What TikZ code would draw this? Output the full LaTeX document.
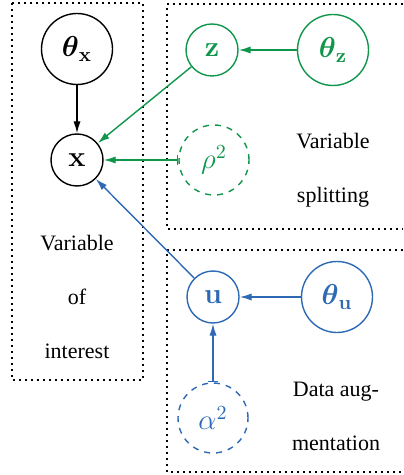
\documentclass[tikz,border=0pt]{standalone}
\usepackage{amsmath}
\usepackage[no-math]{fontspec}
\setmainfont{Liberation Serif}
\usepackage{tikz}
\usetikzlibrary{arrows.meta}

\definecolor{splitgreen}{RGB}{15,150,75}
\definecolor{augblue}{RGB}{45,105,180}

\tikzset{
    var/.style={draw, circle, inner sep=0pt, minimum size=26pt, font=\Large, line width=0.7pt},
    hyper/.style={var, minimum size=35.5pt},
    param/.style={var, dashed, minimum size=35pt},
    groupbox/.style={line width=0.8pt, dash pattern=on 0.8pt off 2.2pt},
    blocktext/.style={align=center, font=\fontsize{11}{27}\selectfont},
}

\begin{document}
\begin{tikzpicture}[x=0.5pt, y=-0.5pt, >={Latex[length=6pt,width=3.6pt]}, line width=0.7pt]
        \useasboundingbox (0,0) rectangle (403,475);

        % groups
        \draw[groupbox] (12,3) rectangle (143,380);
        \draw[groupbox] (403,4) -| (167,229) -- (403,229);
        \draw[groupbox] (403,250) -| (167,472) -- (403,472);

        \node[var] (x) at (77,160) {$\mathbf{x}$};
        \node[hyper] (thetax) at (77,49) {$\boldsymbol{\theta}_{\mathbf{x}}$};
        \node[var, splitgreen] (z) at (212,50) {$\mathbf{z}$};
        \node[hyper, splitgreen] (thetaz) at (333,50) {$\boldsymbol{\theta}_{\mathbf{z}}$};
        \node[param, splitgreen] (rho) at (214,160) {$\rho^2$};
        \node[var, augblue] (u) at (213,297) {$\mathbf{u}$};
        \node[hyper, augblue] (thetau) at (337,297) {$\boldsymbol{\theta}_{\mathbf{u}}$};
        \node[param, augblue] (alpha) at (213,418) {$\alpha^2$};

        \node[blocktext] (interest) at (77,297) {Variable\\of\\interest};
        \node[blocktext] (splitting) at (333,170) {Variable\\splitting};
        \node[blocktext] (augmentation) at (336,416) {Data aug-\\mentation};

        \draw[->] (thetax) -- (x);
        \draw[->, splitgreen] (thetaz) -- (z);
        \draw[->, splitgreen] (z) -- (x);
        \draw[{Bar[width=5pt]}->, splitgreen] (rho) -- (x);
        \draw[->, augblue] (thetau) -- (u);
        \draw[->, augblue] (u) -- (x);
        \draw[{Bar[width=5pt]}->, augblue] (alpha) -- (u);
    \end{tikzpicture}
\end{document}
